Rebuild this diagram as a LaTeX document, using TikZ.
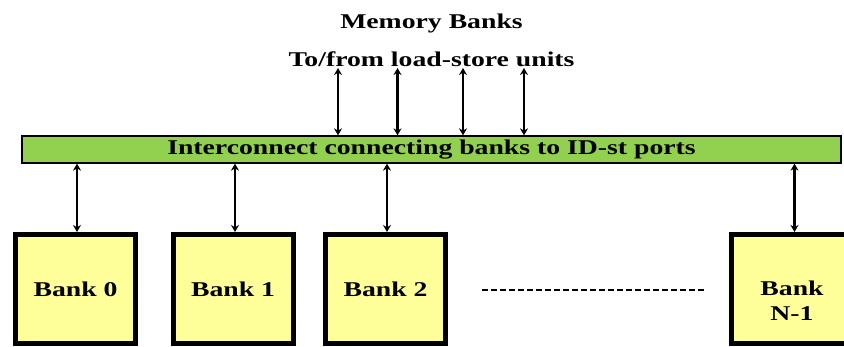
\documentclass[tikz,border=0pt]{standalone}
\usepackage{fontspec}
\setmainfont[FakeStretch=1.32]{Liberation Serif}
\usetikzlibrary{arrows.meta}
\definecolor{barfill}{HTML}{92D050}
\definecolor{bankfill}{HTML}{FFFF99}
\tikzset{
  lbl/.style={font=\fontsize{21}{24}\selectfont\bfseries, inner sep=0pt},
  bankbox/.style={draw=black, line width=5pt, fill=bankfill, minimum width=120pt, minimum height=109pt, inner sep=0pt, align=center, font=\fontsize{21}{25}\selectfont\bfseries},
  busbar/.style={draw=black, line width=1.3pt, fill=barfill, minimum width=819pt, minimum height=27pt, inner sep=0pt, font=\fontsize{21}{24}\selectfont\bfseries},
  link/.style={line width=2.3pt, {Stealth[length=7pt,width=8pt]}-{Stealth[length=7pt,width=8pt]}},
}
\begin{document}
\begin{tikzpicture}[x=1pt,y=-1pt]
\useasboundingbox (0,0) rectangle (844,346);
\clip (0,0) rectangle (844,346);
\node[lbl, anchor=base] (title) at (431.5,28) {Memory Banks};
\node[lbl, anchor=base] (lsu) at (431.5,66) {To/from load-store units};
% shadow
\fill[black!35] (23,135) rectangle (842,136.5);
\node[busbar] (bar) at (431.5,149.5) {Interconnect connecting banks to ID-st ports};
\node[bankbox] (b0) at (75.5,289) {Bank 0};
\node[bankbox] (b1) at (233,289) {Bank 1};
\node[bankbox] (b2) at (385.5,289) {Bank 2};
\node[bankbox] (bn) at (791.5,289) {};
\node[lbl, align=center, font=\fontsize{21}{25}\selectfont\bfseries] (bntext) at (792,301) {Bank\\N-1};
\coordinate (t1) at (338,68);
\coordinate (t2) at (397.5,68);
\coordinate (t3) at (463,68);
\coordinate (t4) at (524,68);
\foreach \t in {t1,t2,t3,t4}{
  \draw[link] (\t) -- (\t |- bar.north);
}
\foreach \b/\dx in {b0/1.5,b1/2,b2/1.5,bn/3}{
  \draw[link] ([xshift=\dx pt]bar.south -| \b.north) -- ([xshift=\dx pt]\b.north);
}
\coordinate (d1) at (482,290);
\coordinate (d2) at (704,290);
\draw[line width=1.3pt, dash pattern=on 6pt off 3pt] (d1) -- (d2);
\end{tikzpicture}
\end{document}
